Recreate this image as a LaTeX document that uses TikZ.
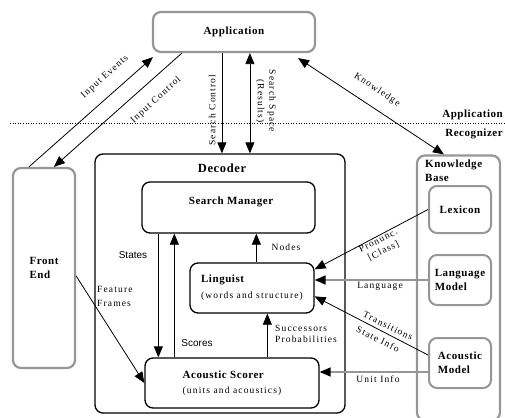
\documentclass[tikz,border=0pt]{standalone}
\usepackage{fontspec}
\setmainfont{Liberation Serif}
\newfontfamily\boxfont{Liberation Serif}[LetterSpace=5]
\newfontfamily\edgefont{Liberation Serif}[LetterSpace=12]
\newfontfamily\sanslbl{Liberation Sans}
\usetikzlibrary{arrows.meta,calc}
\definecolor{framegray}{RGB}{150,150,150}
\begin{document}
\begin{tikzpicture}[x=1pt,y=-1pt,
  >={Triangle[length=11pt,width=9pt]},
  box/.style={draw=black,line width=1.3pt,rounded corners=8pt,inner sep=0pt},
  graybox/.style={draw=framegray,line width=2.2pt,rounded corners=8pt,inner sep=0pt},
  title/.style={font=\boxfont\bfseries\fontsize{11}{14}\selectfont,inner sep=0pt},
  elabel/.style={font=\edgefont\fontsize{9.5}{11.5}\selectfont,inner sep=0pt},
  slabel/.style={font=\sanslbl\fontsize{10}{12}\selectfont,inner sep=0pt},
  link/.style={draw=black,line width=0.8pt},
  glink/.style={draw=framegray,line width=1.6pt,
    -{Triangle[length=11pt,width=9pt,color=black]}},
]
\useasboundingbox (0,0) rectangle (505,417);

% layer separator
\coordinate (sepL) at (10,123);
\coordinate (sepR) at (505,123);
\draw[line width=0.8pt,dash pattern=on 1pt off 1.6pt] (sepL) -- (sepR);
\node[title,anchor=east] (layerapp) at (503,115) {Application};
\node[title,anchor=east] (layerrec) at (503,134) {Recognizer};

% application and front end
\node[graybox,title,minimum width=162pt,minimum height=40pt] (app) at (234,32) {Application};
\node[graybox,title,align=left,minimum width=62pt,minimum height=200pt] (fe) at (44,268) {Front\\End};

% decoder
\node[box,minimum width=250pt,minimum height=259pt] (dec) at (220,283.5) {};
\node[title,font=\boxfont\bfseries\fontsize{12.5}{15}\selectfont] (dectitle) at (222,168) {Decoder};
\node[box,minimum width=173pt,minimum height=51pt] (sm) at (228.5,207.5) {};
\node[title] (smtitle) at (231,202) {Search Manager};
\node[box,align=left,minimum width=124pt,minimum height=50pt,
      font=\edgefont\fontsize{9.5}{16}\selectfont] (ling) at (252,288)
      {{\boxfont\bfseries\fontsize{11}{14}\selectfont Linguist}\\(words and structure)};
\node[box,align=left,minimum width=174pt,minimum height=50pt,
      font=\edgefont\fontsize{9.5}{15}\selectfont] (as) at (232,383)
      {{\boxfont\bfseries\fontsize{11}{14}\selectfont Acoustic Scorer}\\(units and acoustics)};

% knowledge base
\node[graybox,minimum width=83pt,minimum height=265pt] (kb) at (458.5,288) {};
\node[title,anchor=west,align=left] (kbtitle) at (425,171) {Knowledge\\Base};
\node[graybox,title,line width=2pt,minimum width=62pt,minimum height=47pt] (lex) at (460,209.5) {Lexicon};
\node[graybox,title,line width=2pt,align=left,minimum width=62pt,minimum height=50pt] (lm) at (460,280) {Language\\Model};
\node[graybox,title,line width=2pt,align=left,minimum width=62pt,minimum height=50pt] (am) at (460,363) {Acoustic\\Model};

% application <-> recognizer
\draw[link,->] ($(fe.north west)+(17,0)$) -- ($(app.south west)+(1,4)$);
\draw[link,->] ($(app.south west)+(30,0)$) -- ($(fe.north west)+(42,0)$);
\coordinate (scA) at ($(app.south west)+(70,0)$);
\draw[link,->] (scA) -- (scA |- dec.north);
\coordinate (ssA) at ($(app.south west)+(98,0)$);
\draw[link,<->] (ssA) -- (ssA |- dec.north);
\draw[link,<->] ($(app.south east)+(-18,5)$) -- ($(kb.north west)+(28,0)$);

\node[elabel,rotate=42] (lIE) at (105,77) {Input Events};
\node[elabel,rotate=42] (lIC) at (156,100) {Input Control};
\node[elabel,rotate=90] (lSC) at (212,110) {Search Control};
\node[elabel,rotate=-90,align=center] (lSS) at (266,101) {Search Space\\(Results)};
\node[elabel,rotate=-33.5] (lKn) at (377,90) {Knowledge};

% inside the decoder
\coordinate (stA) at ($(sm.south west)+(17,0)$);
\draw[link,->] (stA) -- (stA |- as.north);
\coordinate (scB) at ($(sm.south west)+(33,0)$);
\draw[link,->] (scB |- as.north) -- (scB);
\coordinate (nA) at ($(ling.north west)+(67,0)$);
\draw[link,->] (nA) -- (nA |- sm.south);
\coordinate (suA) at ($(ling.south west)+(78,0)$);
\draw[link,->] (suA |- as.north) -- (suA);

\node[slabel] (lSt) at (133,255) {States};
\node[slabel] (lSco) at (197,343) {Scores};
\node[elabel] (lNo) at (286,247) {Nodes};
\node[elabel,anchor=west,align=left] (lSu) at (275,334) {Successors\\ Probabilities};

% front end -> scorer
\draw[link,->] ($(fe.north east)+(0,109)$) -- (as.west);
\node[elabel,anchor=west,align=left,font=\edgefont\fontsize{9.5}{14}\selectfont] (lFF) at (97,296) {Feature\\Frames};

% knowledge base -> decoder
\draw[link,->] (lex.west) -- ($(ling.north east)+(0,7)$);
\draw[glink] (lm.west) -- (lm.west -| ling.east);
\draw[link,->] ($(am.west)+(0,-8)$) -- ($(ling.north east)+(0,34)$);
\coordinate (uA) at ($(am.west)+(0,9)$);
\draw[glink] (uA) -- (uA -| as.east);

\node[elabel,rotate=27,align=center] (lPr) at (381,246) {Pronunc.\\{[Class]}};
\node[elabel] (lLa) at (380,286) {Language};
\node[elabel,rotate=-26] (lTr) at (388,326) {Transitions};
\node[elabel,rotate=-26] (lSI) at (378,339) {State Info};
\node[elabel] (lUI) at (378,379) {Unit Info};
\end{tikzpicture}
\end{document}
